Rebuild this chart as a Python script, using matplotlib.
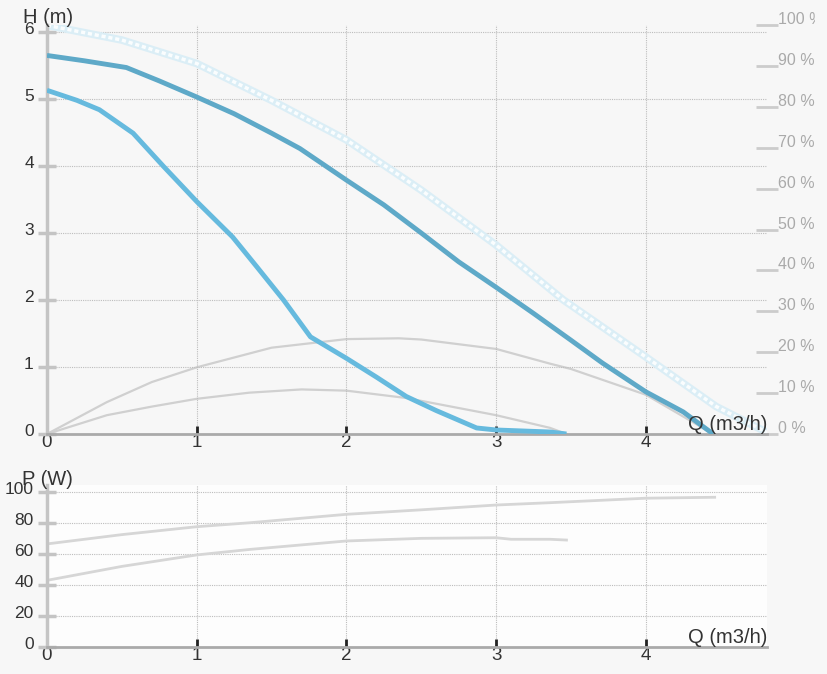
import numpy as np
import matplotlib
matplotlib.use("Agg")
import matplotlib.pyplot as plt
import matplotlib.transforms as mtransforms
from matplotlib.ticker import FuncFormatter

plt.rcParams['font.family'] = ['Liberation Sans', 'DejaVu Sans']

# H(Q) curves
q_max = [0, 0.5, 1.0, 1.5, 2.0, 2.5, 3.0, 3.45, 4.0, 4.47, 4.83]
h_max = [6.1, 5.88, 5.53, 4.98, 4.39, 3.64, 2.82, 2.0, 1.15, 0.41, 0.0]

q_hi = [0, 0.25, 0.53, 0.75, 1.0, 1.25, 1.5, 1.69, 2.0, 2.25, 2.5, 2.75, 3.0, 3.25, 3.5, 3.71, 4.0, 4.25, 4.45]
h_hi = [5.65, 5.57, 5.47, 5.27, 5.03, 4.78, 4.49, 4.26, 3.79, 3.42, 3.0, 2.57, 2.19, 1.8, 1.4, 1.06, 0.63, 0.33, 0.0]

q_lo = [0, 0.2, 0.35, 0.575, 0.78, 1.0, 1.24, 1.4, 1.58, 1.76, 2.0, 2.2, 2.4, 2.6, 2.87, 3.0, 3.36, 3.47]
h_lo = [5.13, 4.98, 4.84, 4.49, 3.99, 3.47, 2.94, 2.5, 2.0, 1.45, 1.13, 0.85, 0.56, 0.35, 0.09, 0.06, 0.03, 0.0]

# efficiency (%)
q_eff_hi = [0, 0.4, 0.7, 1.0, 1.5, 2.0, 2.35, 2.5, 3.0, 3.36, 3.5, 4.0, 4.45]
eff_hi = [0, 7.8, 12.7, 16.3, 21.1, 23.2, 23.4, 23.1, 20.8, 17.2, 15.9, 9.6, 0]
q_eff_lo = [0, 0.4, 0.7, 1.0, 1.35, 1.7, 2.0, 2.4, 3.0, 3.36, 3.47]
eff_lo = [0, 4.6, 6.7, 8.6, 10.1, 10.9, 10.6, 8.8, 4.6, 1.5, 0]

# power P(Q) in W
q_p_hi = [0, 0.5, 1.0, 1.36, 2.0, 2.5, 3.0, 3.36, 4.0, 4.46]
p_hi = [66.5, 72.5, 77.6, 80.2, 85.6, 88.5, 91.6, 93.1, 96.0, 96.6]
q_p_lo = [0, 0.5, 1.0, 1.36, 2.0, 2.5, 3.0, 3.1, 3.36, 3.47]
p_lo = [43, 52, 59.4, 63.0, 68.4, 70.1, 70.5, 69.5, 69.5, 69.0]

x_ticks = [0, 1, 2, 3, 4]

W, H = 828, 674
fig = plt.figure(figsize=(W / 100, H / 100), dpi=100, facecolor='#f7f7f7')

def px_axes(left, top, right, bottom):
    return fig.add_axes([left / W, 1 - bottom / H, (right - left) / W, (bottom - top) / H])

dark = '#333333'
grid_c = '#bdbdbd'

def style(ax, ymax, yticks):
    ax.set_xlim(0, 720 / 149.7)
    ax.set_ylim(0, ymax)
    ax.set_xticks(x_ticks)
    ax.set_yticks(yticks)
    for s in ['top', 'right']:
        ax.spines[s].set_visible(False)
    ax.spines['left'].set_color('#c4c4c4')
    ax.spines['left'].set_linewidth(2.5)
    ax.spines['bottom'].set_color('#aaaaaa')
    ax.spines['bottom'].set_linewidth(2)
    ax.tick_params(axis='x', direction='in', length=6, width=2, color='#222222',
                   labelsize=13.5, labelcolor=dark, pad=0)
    ax.tick_params(axis='y', direction='inout', length=13, width=2.5, color='#c4c4c4',
                   labelsize=12.5, labelcolor=dark, pad=3)
    for v in yticks[1:]:
        ax.axhline(v, color=grid_c, lw=0.8, ls=(0, (1, 1)), zorder=0.5)
    for v in x_ticks[1:]:
        ax.axvline(v, color=grid_c, lw=0.8, ls=(0, (1, 1)), zorder=0.5)
    off = mtransforms.ScaledTranslation(0, 3 / 72, fig.dpi_scale_trans)
    for lab in ax.get_yticklabels():
        lab.set_transform(lab.get_transform() + off)
    ax.text(1.0, 0.0, 'Q (m3/h)', transform=ax.transAxes, ha='right', va='bottom',
            fontsize=14.5, color=dark, zorder=6)

# top chart
ax = px_axes(47, 25, 767, 434)
ax2 = ax.twinx()
ax2.set_zorder(1)
ax.set_zorder(2)
ax.patch.set_alpha(0)
ax2.patch.set_facecolor('#fdfdfd')
style(ax, 409 / 67, [0, 1, 2, 3, 4, 5, 6])

ax2.set_ylim(0, 100)
ax2.set_yticks(range(0, 101, 10))
ax2.yaxis.set_major_formatter(FuncFormatter(lambda v, p: f'{v:.0f} %'))
for s in ['top', 'left', 'bottom', 'right']:
    ax2.spines[s].set_visible(False)
ax2.tick_params(axis='y', direction='inout', length=16, width=2, color='#cccccc',
                labelsize=11.5, labelcolor='#aaaaaa', pad=0)
off2 = mtransforms.ScaledTranslation(0, 5 / 72, fig.dpi_scale_trans)
clip = mtransforms.Bbox.from_extents(0, 0, 815, H)
for lab in ax2.get_yticklabels():
    lab.set_transform(lab.get_transform() + off2)
    lab.set_clip_box(mtransforms.TransformedBbox(clip, mtransforms.IdentityTransform()))
    lab.set_clip_on(True)
ax2.plot(q_eff_hi, eff_hi, color='#d0d0d0', lw=1.6)
ax2.plot(q_eff_lo, eff_lo, color='#d0d0d0', lw=1.6)

ax.plot(q_max, h_max, color='#dbeef6', lw=5.5, solid_capstyle='butt', zorder=2)
ax.plot(q_max, h_max, color='#fafdfe', lw=2.5, ls=(0, (1.2, 0.8)), zorder=2.1)
ax.plot(q_hi, h_hi, color='#5ea9c8', lw=3.5, solid_capstyle='butt', zorder=3)
ax.plot(q_lo, h_lo, color='#66bade', lw=3.5, solid_capstyle='butt', zorder=3)

fig.text(23 / W, 1 - 27 / H, 'H (m)', fontsize=14.5, color=dark, ha='left', va='bottom')

# bottom chart
bx = px_axes(47, 485, 767, 647)
bx.set_facecolor('#fdfdfd')
style(bx, 162 / 1.55, [0, 20, 40, 60, 80, 100])
bx.plot(q_p_hi, p_hi, color='#d6d6d6', lw=2)
bx.plot(q_p_lo, p_lo, color='#d6d6d6', lw=2)
fig.text(22 / W, 1 - 489 / H, 'P (W)', fontsize=14.5, color=dark, ha='left', va='bottom')

fig.savefig('out.png', dpi=100, facecolor=fig.get_facecolor())
